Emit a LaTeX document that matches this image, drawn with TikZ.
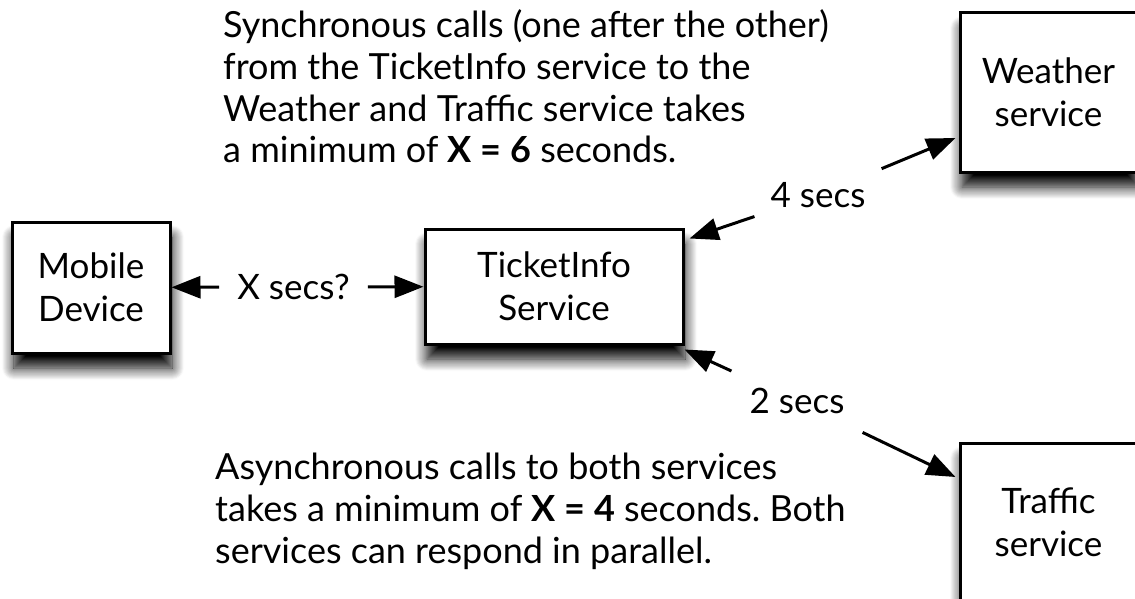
\documentclass[tikz,border=0pt]{standalone}
\usepackage{fontspec}
\setmainfont{Lato}
\usetikzlibrary{positioning, arrows.meta, shadows.blur}

\begin{document}
\frenchspacing
\begin{tikzpicture}[
        x=1pt, y=-1pt,
        box/.style={draw, rectangle, line width=3pt, fill=white, align=center, inner sep=0pt,
            font=\fontsize{35}{43}\selectfont,
            blur shadow={shadow xshift=2pt, shadow yshift=-15pt, shadow blur radius=12pt, shadow opacity=100, shadow blur steps=12}},
        timing/.style={font=\fontsize{35}{40}\selectfont, inner xsep=18pt, inner ysep=20pt},
        note/.style={anchor=base west, align=left, inner sep=0pt, font=\fontsize{36}{42}\selectfont},
        arrow/.style={-{Triangle[length=29pt, width=22pt]}, line width=3pt}
    ]
    \clip (0,0) rectangle (1135,599);

    % --- services ---
    \node[box, minimum width=158pt, minimum height=131pt] (mobile) at (91,287.5) {Mobile\\Device};
    \node[box, minimum width=258pt, minimum height=115pt] (ticket) at (554,286.5) {TicketInfo\\Service};
    \node[box, minimum width=177pt, minimum height=159pt] (weather) at (1048.5,92.5) {Weather\\service};
    \node[box, minimum width=177pt, minimum height=159pt] (traffic) at (1048.5,522.5) {Traffic\\service};

    % --- timings ---
    \node[timing] (xsecs) at (293.5,287) {X secs?};
    \node[timing, inner xsep=16pt] (foursecs) at (818,195) {4 secs};
    \node[timing] (twosecs) at (797,401) {2 secs};

    \draw[arrow] (xsecs) -- (mobile);
    \draw[arrow] (xsecs) -- (ticket);
    \draw[arrow] (foursecs) -- ([xshift=5pt, yshift=-11pt]ticket.north east);
    \draw[arrow] (foursecs) -- ([xshift=-3pt, yshift=-45.5pt]weather.west);
    \draw[arrow] (twosecs) -- ([yshift=-4pt]ticket.south east);
    \draw[arrow] (twosecs) -- ([xshift=-3pt, yshift=45.5pt]traffic.west);

    % --- notes ---
    \node[note] (sync) at (223,163) {Synchronous calls (one after the other)\\
        from the TicketInfo service to the\\
        Weather and Traffic service takes\\
        a minimum of \textbf{X = 6} seconds.};
    \node[note] (async) at (215,563) {Asynchronous calls to both services\\
        takes a minimum of \textbf{X = 4} seconds. Both\\
        services can respond in parallel.};
\end{tikzpicture}
\end{document}
